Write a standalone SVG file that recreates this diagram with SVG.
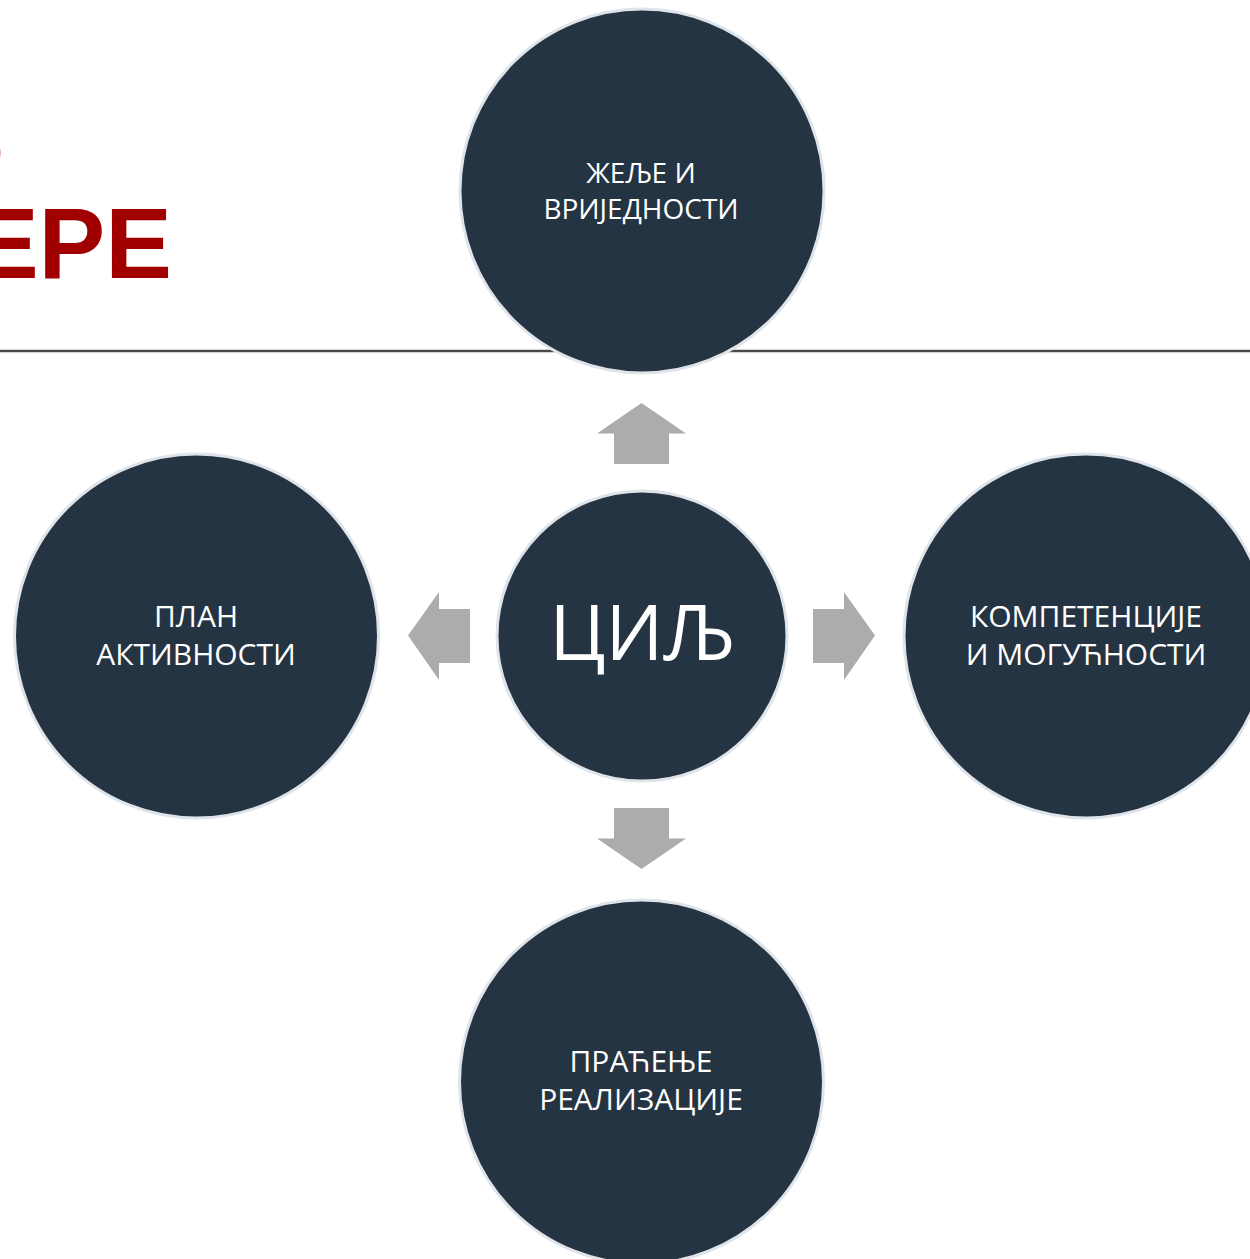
<svg xmlns="http://www.w3.org/2000/svg" width="1250" height="1259" viewBox="0 0 1250 1259">
  <style>
    .node { fill: #253442; stroke: #dfe4ea; stroke-width: 3; }
    .lbl { font-family: "Open Sans", "Noto Sans", "DejaVu Sans", sans-serif; font-size: 30px; fill: #ffffff; text-anchor: middle; }
    .sm { font-size: 28px; }
    .big { font-family: "Open Sans", "Noto Sans", "DejaVu Sans", sans-serif; font-size: 76px; fill: #ffffff; text-anchor: middle; }
    .title { font-family: "Liberation Sans", Arial, sans-serif; font-weight: bold; font-size: 100px; fill: #a00000; text-anchor: end; }
    .arrow { fill: #abacae; }
  </style>
  <rect x="0" y="0" width="1250" height="1259" fill="#ffffff"/>

  <g id="title">
    <text class="title" x="4.5" y="187">О</text>
    <text class="title" x="172" y="278">ЕРЕ</text>
  </g>
  <line x1="0" y1="351" x2="1250" y2="351" stroke="#4a4a4a" stroke-width="2.5"/>

  <g id="connectors">
    <polygon class="arrow" points="641.5,403 686,433.5 669,433.5 669,464 614,464 614,433.5 597,433.5"/>
    <polygon class="arrow" points="641.5,869 686,838.5 669,838.5 669,808 614,808 614,838.5 597,838.5"/>
    <polygon class="arrow" points="408,635.5 439,592 439,609 470,609 470,663 439,663 439,680"/>
    <polygon class="arrow" points="875,635.5 844,592 844,609 813,609 813,663 844,663 844,680"/>
  </g>

  <g id="node-top">
    <circle class="node" cx="642" cy="191" r="182"/>
    <text class="lbl sm" x="641" y="183">ЖЕЉЕ И</text>
    <text class="lbl sm" x="641" y="219">ВРИЈЕДНОСТИ</text>
  </g>
  <g id="node-left">
    <circle class="node" cx="196.5" cy="636" r="182"/>
    <text class="lbl" x="196" y="627">ПЛАН</text>
    <text class="lbl" x="196" y="665">АКТИВНОСТИ</text>
  </g>
  <g id="node-right">
    <circle class="node" cx="1086" cy="636" r="182"/>
    <text class="lbl" x="1086" y="627">КОМПЕТЕНЦИЈЕ</text>
    <text class="lbl" x="1086" y="665">И МОГУЋНОСТИ</text>
  </g>
  <g id="node-bottom">
    <circle class="node" cx="641.5" cy="1082" r="182"/>
    <text class="lbl" x="641" y="1072">ПРАЋЕЊЕ</text>
    <text class="lbl" x="641" y="1110">РЕАЛИЗАЦИЈЕ</text>
  </g>
  <g id="node-center">
    <circle class="node" cx="642" cy="636" r="145"/>
    <text class="big" x="642" y="660">ЦИЉ</text>
  </g>
</svg>
